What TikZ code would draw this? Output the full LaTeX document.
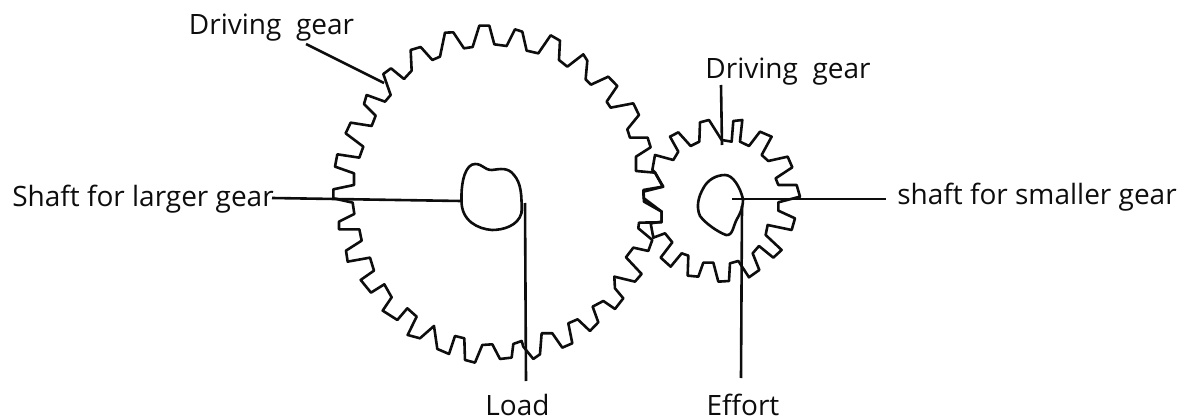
\documentclass[tikz,border=0pt]{standalone}
\usepackage{fontspec}
\setmainfont{Open Sans}
\begin{document}
\begin{tikzpicture}[x=1pt,y=-1pt,
  gearline/.style={draw=black!95,line width=2.6pt,line join=round},
  leader/.style={draw=black!95,line width=2.6pt},
  lab/.style={inner sep=0pt,font=\fontsize{28}{32}\selectfont,text=black!95,anchor=base}]
\useasboundingbox (0,0) rectangle (1187,420);
% large gear: zoom traces converted to pixels
\draw[gearline,x=0.3333pt,y=-0.3333pt,shift={(320pt,0pt)}]
 (40,595)--(40,568)--(102,555)--(102,520)--(45,500)--(52,463)--(118,473)--(130,440)--(77,400)--(92,368)--(155,378)--(167,347)--(132,312)--(140,285)--(195,305)--(212,285)--(190,222)--(213,205)--(252,237)--(275,212)--(272,150)--(302,141)--(337,180)--(360,170)--(375,98)--(400,97)--(432,145)--(458,141)--(478,77)--(508,77)--(523,133)--(560,138)--(585,88)--(607,95)--(620,152)--(655,160)--(692,106)--(720,122)--(717,180)--(742,200)--(790,163)--(802,182)--(797,238)--(813,254)--(865,230)--(892,258)--(860,305)--(872,323)--(940,310)--(957,345)--(922,388)--(930,413)--(983,413)--(992,442)--(948,470)--(948,513)--(1005,518)--(1030,560)--(970,575)--(972,605)--(1025,635)--(1025,667)--(957,668)--(955,685)--(997,720)--(985,753)--(940,743)--(918,772)--(965,822)--(945,845)--(883,830)--(885,865)--(910,895)--(885,927)--(850,903)--(818,920)--(835,967)--(810,993)--(773,958)--(745,970)--(757,1030)--(727,1043)--(697,1000)--(665,1000)--(660,1063)--(640,1077)--(610,1040)--(605,1023)--(580,1032)--(575,1073)--(540,1077)--(517,1033)--(487,1035)--(465,1088)--(435,1080)--(433,1015)--(405,1008)--(387,1062)--(352,1047)--(342,978)--(300,1015)--(263,1005)--(290,950)--(262,925)--(232,960)--(188,932)--(215,892)--(193,853)--(153,878)--(122,840)--(162,812)--(150,773)--(83,785)--(78,752)--(125,722)--(118,688)--(57,688)--(57,665)--(103,642)--(98,608)--cycle;
% small gear
\draw[gearline,x=0.3333pt,y=-0.3333pt,shift={(620pt,-90pt)}]
 (105,247)--(97,240)--(105,195)--(160,210)--(175,185)--(150,140)--(175,127)--(212,168)--(238,155)--(240,97)--(267,90)--(305,150)--(335,155)--(340,93)--(367,90)--(360,155)--(387,168)--(420,125)--(455,140)--(425,195)--(445,213)--(503,200)--(517,232)--(467,265)--(475,285)--(530,285)--(540,320)--(475,337)--(475,362)--(525,385)--(515,420)--(443,405)--(437,435)--(485,480)--(460,503)--(417,468)--(398,490)--(418,540)--(387,562)--(355,513)--(330,520)--(327,573)--(295,575)--(280,518)--(250,518)--(235,560)--(203,557)--(205,497)--(185,490)--(152,530)--(122,503)--(157,457)--(135,430)--(100,443)--(92,400)--(125,395)--(125,365)--(72,325)--(70,300)--(128,290)--cycle;
% shafts
\draw[gearline] (461.5,200) .. controls (461,180) and (466,164) .. (475,164) .. controls (483,164) and (484,170) .. (492,170) .. controls (500,169) and (508,167) .. (514,175) .. controls (521,183) and (522,195) .. (521.5,213) .. controls (518,226) and (503,230) .. (492,230) .. controls (478,229) and (461,221) .. (461.5,200) -- cycle;
\draw[gearline] (743,199) .. controls (740,187) and (733,175) .. (725,175) .. controls (716,175) and (708,180) .. (704,187) .. controls (698,197) and (696,207) .. (700,216) .. controls (706,224) and (718,232) .. (726,235) .. controls (733,236) and (733,226) .. (737,219) .. controls (741,212) and (743,207) .. (743,199) -- cycle;
% labels
\node[lab] (drivingA) at (271.5,35) {Driving\ \ gear};
\node[lab] (drivingB) at (788,79) {Driving\ \ gear};
\node[lab] (shaftL) at (143,206.5) {Shaft for larger gear};
\node[lab] (shaftS) at (1037,204) {shaft for smaller gear};
\node[lab] (load) at (517.5,415.5) {Load};
\node[lab] (effort) at (743,415.5) {Effort};
% leader ends
\coordinate (a1) at (306,44); \coordinate (a2) at (384,83);
\coordinate (b1) at (721,85); \coordinate (b2) at (722,145);
\coordinate (c1) at (272,198); \coordinate (c2) at (461,201);
\coordinate (d1) at (525,203); \coordinate (d2) at (526,381);
\coordinate (e1) at (732,199); \coordinate (e2) at (886,199);
\coordinate (f1) at (742,206); \coordinate (f2) at (741,378);
\draw[leader] (a1)--(a2);
\draw[leader] (b1)--(b2);
\draw[leader] (c1)--(c2);
\draw[leader] (d1)--(d2);
\draw[leader] (e1)--(e2);
\draw[leader] (f1)--(f2);
\end{tikzpicture}
\end{document}
